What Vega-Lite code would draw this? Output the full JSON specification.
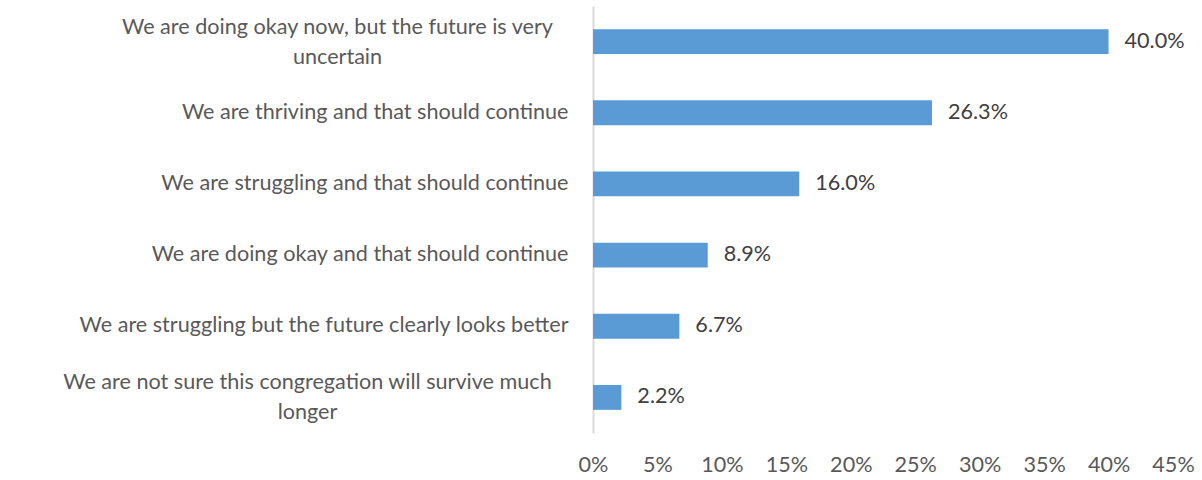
{
  "$schema": "https://vega.github.io/schema/vega-lite/v6.json",
  "autosize": {"type": "none"},
  "padding": {"left": 593, "top": 6, "right": 29, "bottom": 47},
  "width": 580,
  "height": 427,
  "background": "white",
  "config": {"view": {"stroke": null}, "font": "Lato"},
  "data": {"values": [
    {"response": "We are doing okay now, but the future is very uncertain", "share": 0.400},
    {"response": "We are thriving and that should continue", "share": 0.263},
    {"response": "We are struggling and that should continue", "share": 0.160},
    {"response": "We are doing okay and that should continue", "share": 0.089},
    {"response": "We are struggling but the future clearly looks better", "share": 0.067},
    {"response": "We are not sure this congregation will survive much longer", "share": 0.022}
  ]},
  "encoding": {
    "y": {
      "field": "response", "type": "nominal", "sort": null, "title": null,
      "scale": {"paddingInner": 0.65, "paddingOuter": 0.325},
      "axis": {
        "ticks": false, "grid": false,
        "domainColor": "#D9D9D9", "domainWidth": 2,
        "labelFont": "Lato", "labelFontSize": 21.6, "labelColor": "#595959",
        "labelLimit": 700, "labelLineHeight": 30,
        "labelExpr": "datum.value == 'We are doing okay now, but the future is very uncertain' ? ['We are doing okay now, but the future is very', 'uncertain'] : datum.value == 'We are not sure this congregation will survive much longer' ? ['We are not sure this congregation will survive much', 'longer'] : datum.value",
        "labelAlign": {"condition": {"test": "indexof(datum.value, 'uncertain') >= 0 || indexof(datum.value, 'longer') >= 0", "value": "center"}, "value": "right"},
        "labelOffset": {"condition": {"test": "indexof(datum.value, 'uncertain') >= 0 || indexof(datum.value, 'longer') >= 0", "value": -14}, "value": 0},
        "labelPadding": {"condition": [
          {"test": "indexof(datum.value, 'uncertain') >= 0", "value": 256},
          {"test": "indexof(datum.value, 'longer') >= 0", "value": 286}
        ], "value": 25}
      }
    }
  },
  "layer": [
    {
      "mark": {"type": "bar", "color": "#5B9BD5"},
      "encoding": {
        "x": {
          "field": "share", "type": "quantitative", "title": null,
          "scale": {"domain": [0, 0.45], "nice": false},
          "axis": {
            "format": "%", "values": [0, 0.05, 0.1, 0.15, 0.2, 0.25, 0.3, 0.35, 0.4, 0.45],
            "grid": false, "ticks": false, "domain": false,
            "labelFont": "Lato", "labelFontSize": 21.6, "labelColor": "#595959",
            "labelPadding": 21, "labelFlush": false
          }
        }
      }
    },
    {
      "mark": {"type": "text", "align": "left", "baseline": "middle", "dx": 16, "font": "Lato", "fontSize": 21.6, "color": "#404040"},
      "encoding": {
        "x": {"field": "share", "type": "quantitative"},
        "text": {"field": "share", "type": "quantitative", "format": ".1%"}
      }
    }
  ]
}
